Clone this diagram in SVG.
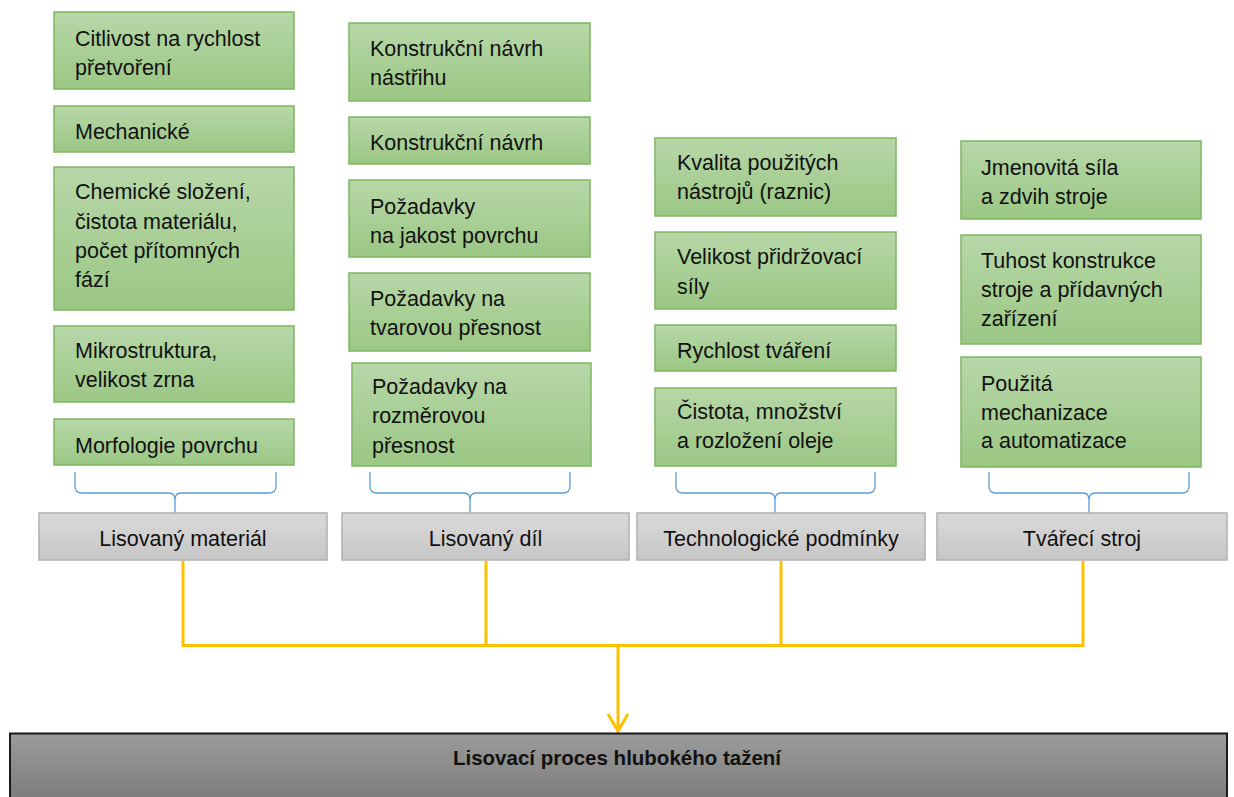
<svg xmlns="http://www.w3.org/2000/svg" width="1234" height="797" viewBox="0 0 1234 797">
<defs>
<linearGradient id="gG" x1="0" y1="0" x2="0" y2="1"><stop offset="0" stop-color="#b7d7a8"/><stop offset="1" stop-color="#9bc784"/></linearGradient>
<linearGradient id="gY" x1="0" y1="0" x2="0" y2="1"><stop offset="0" stop-color="#dadada"/><stop offset="1" stop-color="#c6c6c6"/></linearGradient>
<linearGradient id="gD" x1="0" y1="0" x2="0" y2="1"><stop offset="0" stop-color="#9c9c9c"/><stop offset="1" stop-color="#7a7a7a"/></linearGradient>
</defs>
<style>
.g{fill:url(#gG);stroke:#7eb660;stroke-width:1.5}
.y{fill:url(#gY);stroke:#b0b0b0;stroke-width:1.5}
.t{font-family:"Liberation Sans",Arial,sans-serif;font-size:21.5px;fill:#111}
.c{text-anchor:middle}
.br{fill:none;stroke:#5b9bd5;stroke-width:1.3}
.ln{fill:none;stroke:#ffc000;stroke-width:3}
</style>
<rect width="1234" height="797" fill="#fff"/>

<g id="connectors">
<path class="br" d="M75,472 L75,486 Q75,493 82,493 L169,493 Q175,493 175,500 L175,518 M175,500 Q175,493 181,493 L269,493 Q276,493 276,486 L276,472"/>
<path class="br" d="M370,472 L370,486 Q370,493 377,493 L464,493 Q470,493 470,500 L470,518 M470,500 Q470,493 476,493 L563,493 Q570,493 570,486 L570,472"/>
<path class="br" d="M676,472 L676,486 Q676,493 683,493 L769,493 Q775,493 775,500 L775,518 M775,500 Q775,493 781,493 L868,493 Q875,493 875,486 L875,472"/>
<path class="br" d="M989,472 L989,486 Q989,493 996,493 L1083,493 Q1089,493 1089,500 L1089,518 M1089,500 Q1089,493 1095,493 L1182,493 Q1189,493 1189,486 L1189,472"/>
<path class="ln" d="M183,561 L183,645.5 L1083,645.5 L1083,561 M486,561 L486,645.5 M781,561 L781,645.5 M618,645.5 L618,731 M608,714 L618,731 L628,714"/>
</g>

<g id="c1n1"><rect class="g" x="54" y="12" width="240" height="77"/><text class="t" x="75" y="46">Citlivost na rychlost</text><text class="t" x="75" y="75">přetvoření</text></g>
<g id="c1n2"><rect class="g" x="54" y="106" width="240" height="46"/><text class="t" x="75" y="139">Mechanické</text></g>
<g id="c1n3"><rect class="g" x="54" y="167" width="240" height="143"/><text class="t" x="75" y="199">Chemické složení,</text><text class="t" x="75" y="229">čistota materiálu,</text><text class="t" x="75" y="258">počet přítomných</text><text class="t" x="75" y="287">fází</text></g>
<g id="c1n4"><rect class="g" x="54" y="326" width="240" height="76"/><text class="t" x="75" y="358">Mikrostruktura,</text><text class="t" x="75" y="387">velikost zrna</text></g>
<g id="c1n5"><rect class="g" x="54" y="419" width="240" height="46"/><text class="t" x="75" y="453">Morfologie povrchu</text></g>

<g id="c2n1"><rect class="g" x="349" y="23" width="241" height="78"/><text class="t" x="370" y="56">Konstrukční návrh</text><text class="t" x="370" y="85">nástřihu</text></g>
<g id="c2n2"><rect class="g" x="349" y="117" width="241" height="47"/><text class="t" x="370" y="150">Konstrukční návrh</text></g>
<g id="c2n3"><rect class="g" x="349" y="180" width="241" height="77"/><text class="t" x="370" y="214">Požadavky</text><text class="t" x="370" y="243">na jakost povrchu</text></g>
<g id="c2n4"><rect class="g" x="349" y="273" width="241" height="78"/><text class="t" x="370" y="306">Požadavky na</text><text class="t" x="370" y="335">tvarovou přesnost</text></g>
<g id="c2n5"><rect class="g" x="352" y="363" width="239" height="103"/><text class="t" x="372" y="394">Požadavky na</text><text class="t" x="372" y="423">rozměrovou</text><text class="t" x="372" y="453">přesnost</text></g>

<g id="c3n1"><rect class="g" x="655" y="138" width="241" height="78"/><text class="t" x="677" y="170">Kvalita použitých</text><text class="t" x="677" y="199">nástrojů (raznic)</text></g>
<g id="c3n2"><rect class="g" x="655" y="232" width="241" height="77"/><text class="t" x="677" y="264">Velikost přidržovací</text><text class="t" x="677" y="294">síly</text></g>
<g id="c3n3"><rect class="g" x="655" y="325" width="241" height="46"/><text class="t" x="677" y="358">Rychlost tváření</text></g>
<g id="c3n4"><rect class="g" x="655" y="388" width="241" height="78"/><text class="t" x="677" y="419">Čistota, množství</text><text class="t" x="677" y="448">a rozložení oleje</text></g>

<g id="c4n1"><rect class="g" x="961" y="141" width="240" height="78"/><text class="t" x="981" y="175">Jmenovitá síla</text><text class="t" x="981" y="204">a zdvih stroje</text></g>
<g id="c4n2"><rect class="g" x="961" y="235" width="240" height="109"/><text class="t" x="981" y="268">Tuhost konstrukce</text><text class="t" x="981" y="297">stroje a přídavných</text><text class="t" x="981" y="326">zařízení</text></g>
<g id="c4n3"><rect class="g" x="961" y="357" width="240" height="110"/><text class="t" x="981" y="391">Použitá</text><text class="t" x="981" y="420">mechanizace</text><text class="t" x="981" y="448">a automatizace</text></g>

<g id="h1"><rect class="y" x="39" y="513" width="288" height="47"/><text class="t c" x="183" y="546">Lisovaný materiál</text></g>
<g id="h2"><rect class="y" x="342" y="513" width="287" height="47"/><text class="t c" x="485.5" y="546">Lisovaný díl</text></g>
<g id="h3"><rect class="y" x="637" y="513" width="288" height="47"/><text class="t c" x="781" y="546">Technologické podmínky</text></g>
<g id="h4"><rect class="y" x="937" y="513" width="290" height="47"/><text class="t c" x="1082" y="546">Tvářecí stroj</text></g>

<g id="result"><rect x="10" y="733.5" width="1217" height="70" fill="url(#gD)" stroke="#1a1a1a" stroke-width="2"/><text class="t c" x="617" y="765" style="font-weight:bold;font-size:20.5px">Lisovací proces hlubokého tažení</text></g>
</svg>
